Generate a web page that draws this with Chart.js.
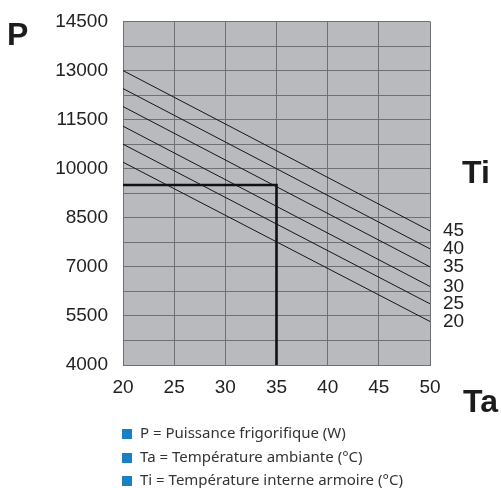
<!DOCTYPE html>
<html>
<head>
<meta charset="utf-8">
<script src="https://cdn.jsdelivr.net/npm/chart.js@4"></script>
<style>
  html, body { margin: 0; padding: 0; background: #fff; }
  #wrap { position: relative; width: 501px; height: 488px; }
  #legend { position: absolute; left: 122px; top: 421px; font-family: "Noto Sans", sans-serif; font-size: 15px; color: #333; }
  #legend div { height: 23.5px; line-height: 23.5px; white-space: nowrap; }
  #legend span { display: inline-block; width: 10px; height: 10px; background: #1a7fc4; margin-right: 8px; vertical-align: -1px; }
</style>
</head>
<body>
<div id="wrap">
  <canvas id="chart" width="501" height="488"></canvas>
  <div id="legend">
    <div><span></span>P = Puissance frigorifique (W)</div>
    <div><span></span>Ta = Température ambiante (°C)</div>
    <div><span></span>Ti = Température interne armoire (°C)</div>
  </div>
</div>
<script>
// Ta values where each Ti line starts and ends
const ambient = [20, 50];
// P (W) for each internal temperature Ti
const ti20 = [10200, 5330];
const ti25 = [10750, 5870];
const ti30 = [11300, 6400];
const ti35 = [11900, 7000];
const ti40 = [12450, 7550];
const ti45 = [13000, 8100];
const tiNames = ['20', '25', '30', '35', '40', '45'];
// reading example drawn in bold
const exampleTa = [20, 35, 35];
const exampleP = [9500, 9500, 4000];
const yTicks = [4000, 5500, 7000, 8500, 10000, 11500, 13000, 14500];
const xTicks = [20, 25, 30, 35, 40, 45, 50];

const series = [ti20, ti25, ti30, ti35, ti40, ti45];
const gridColor = '#6f7073';
const fontFamily = "'Liberation Sans', Arial, sans-serif";
const tickFont = { family: fontFamily, size: 19 };

const datasets = series.map((vals, i) => ({
  label: 'Ti ' + tiNames[i],
  data: ambient.map((x, j) => ({ x: x, y: vals[j] })),
  borderColor: '#151515',
  borderWidth: 1,
  pointRadius: 0,
  fill: false
}));
datasets.push({
  label: 'example',
  data: exampleTa.map((x, j) => ({ x: x, y: exampleP[j] })),
  borderColor: '#111',
  borderWidth: 2.6,
  pointRadius: 0,
  fill: false
});

const plotBg = {
  id: 'plotBg',
  beforeDraw(chart) {
    const a = chart.chartArea, ctx = chart.ctx;
    ctx.save();
    ctx.fillStyle = '#b9babe';
    ctx.fillRect(a.left, a.top, a.right - a.left, a.bottom - a.top);
    ctx.restore();
  }
};

const labels = {
  id: 'labels',
  afterDraw(chart) {
    const ctx = chart.ctx, y = chart.scales.y;
    ctx.save();
    ctx.fillStyle = '#222';
    ctx.font = '19px ' + fontFamily;
    ctx.textBaseline = 'middle';
    ctx.textAlign = 'left';
    series.forEach((vals, i) => {
      ctx.fillText(tiNames[i], 443, y.getPixelForValue(vals[vals.length - 1]));
    });
    ctx.font = 'bold 32px ' + fontFamily;
    ctx.textBaseline = 'alphabetic';
    ctx.fillStyle = '#1c1c1c';
    ctx.fillText('P', 7, 45);
    ctx.fillText('Ti', 462, 183);
    ctx.fillText('Ta', 463, 412);
    ctx.restore();
  }
};

new Chart(document.getElementById('chart'), {
  type: 'line',
  data: { datasets },
  options: {
    responsive: false,
    animation: false,
    layout: { padding: { left: 0, top: 21.5, right: 71, bottom: 0 } },
    plugins: { legend: { display: false }, tooltip: { enabled: false } },
    scales: {
      x: {
        type: 'linear',
        min: 20, max: 50,
        afterBuildTicks: (s) => { s.ticks = xTicks.map(v => ({ value: v })); },
        grid: { color: gridColor, drawTicks: false, lineWidth: 1 },
        border: { color: gridColor },
        ticks: { font: tickFont, color: '#222', padding: 11, maxRotation: 0, autoSkip: false },
        afterFit: (s) => { s.height = 123; }
      },
      y: {
        min: 4000, max: 14500,
        ticks: {
          stepSize: 750,
          autoSkip: false,
          font: tickFont,
          color: '#222',
          padding: 15,
          callback: (v) => yTicks.includes(v) ? String(v) : ''
        },
        grid: { color: gridColor, drawTicks: false, lineWidth: 1 },
        border: { color: gridColor },
        afterFit: (s) => { s.width = 123; s.paddingTop = 0; s.paddingBottom = 0; }
      }
    }
  },
  plugins: [plotBg, labels]
});
</script>
</body>
</html>
